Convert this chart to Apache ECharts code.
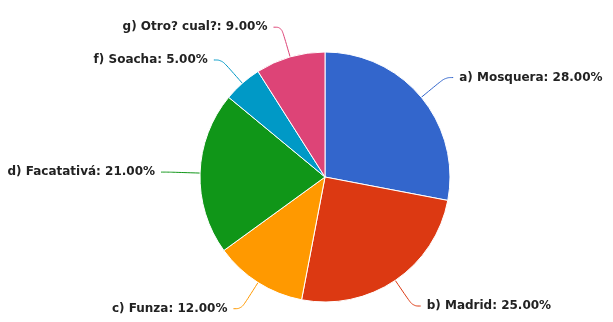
<!DOCTYPE html>
<html><head><meta charset="utf-8">
<script src="https://cdn.jsdelivr.net/npm/echarts@6/dist/echarts.min.js"></script>
<style>html,body{margin:0;padding:0;background:#fff}#c{width:613px;height:322px}</style>
</head><body><div id="c"></div>
<script>
const categories = ['a) Mosquera', 'b) Madrid', 'c) Funza', 'd) Facatativá', 'f) Soacha', 'g) Otro? cual?'];
const values = [28, 25, 12, 21, 5, 9];
const colors = ['#3366CC', '#DC3912', '#FF9900', '#109618', '#0099C6', '#DD4477'];

const chart = echarts.init(document.getElementById('c'));
chart.setOption({
  animation: false,
  color: colors,
  series: [{
    type: 'pie',
    center: [325, 177],
    radius: 125,
    startAngle: 90,
    clockwise: true,
    data: categories.map((n, i) => ({ name: n, value: values[i] })),
    itemStyle: { borderColor: '#fff', borderWidth: 1 },
    label: {
      formatter: p => p.name + ': ' + p.value.toFixed(2) + '%',
      color: '#222',
      fontFamily: '"DejaVu Sans", sans-serif',
      fontWeight: 'bold',
      fontSize: 12,
      overflow: 'none',
      distanceToLabelLine: 6
    },
    labelLine: { show: true, length: 31, length2: 8, smooth: 0.4, lineStyle: { width: 1 } }
  }]
});
</script></body></html>
